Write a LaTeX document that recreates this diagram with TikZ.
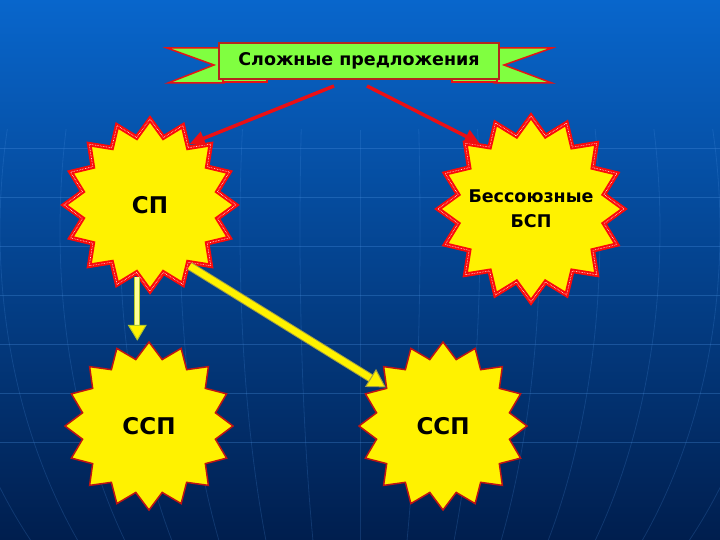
\documentclass[tikz,border=0pt]{standalone}
\usepackage{fontspec}
\setsansfont{DejaVu Sans}
\usetikzlibrary{arrows.meta, shapes.geometric, positioning}

\definecolor{bgtop}{RGB}{8,102,204}
\definecolor{bgmid}{RGB}{0,72,160}
\definecolor{bgbot}{RGB}{0,30,78}
\definecolor{gridblue}{RGB}{80,150,230}
\definecolor{ribbongreen}{RGB}{128,255,64}
\definecolor{ribbonred}{RGB}{230,20,20}
\definecolor{ribbonedge}{RGB}{180,40,30}
\definecolor{starred}{RGB}{250,10,10}
\definecolor{stardark}{RGB}{190,20,20}
\definecolor{arrowred}{RGB}{235,15,20}
\definecolor{paleyellow}{RGB}{255,255,150}
\definecolor{yellowedge}{RGB}{180,200,40}

\begin{document}
\begin{tikzpicture}[x=1pt, y=-1pt,
		gridline/.style={draw=gridblue, opacity=0.3, line width=0.8pt},
		ribbon/.style={fill=ribbongreen, draw=ribbonred, line width=1.5pt, line join=miter},
		banner/.style={rectangle, fill=ribbongreen, draw=ribbonedge, line width=2pt,
			minimum width=280pt, minimum height=36pt, inner sep=0pt,
			font=\sffamily\bfseries\fontsize{17.5}{19}\selectfont},
		bigstar/.style={star, star points=16, star point ratio=1.25, inner sep=0pt,
			fill=yellow, draw=starred, line width=4.5pt,
			postaction={draw=white, line width=0.6pt, densely dotted},
			font=\sffamily\bfseries\fontsize{23}{25}\selectfont},
		smallstar/.style={star, star points=16, star point ratio=1.24, inner sep=0pt,
			fill=yellow, draw=stardark, line width=1.5pt,
			font=\sffamily\bfseries\fontsize{23}{25}\selectfont},
		redarrow/.style={draw=arrowred, line width=3.5pt, -{Triangle[length=15pt, width=14pt]}},
		hollowarrow/.style={draw=yellowedge, line width=1pt, double=paleyellow, double distance=4pt,
			-{Triangle[length=16pt, width=19pt, fill=yellow]}},
		yellowarrow/.style={draw=yellow!60!black, line width=1pt, double=yellow, double distance=6.5pt,
			-{Triangle[length=18pt, width=21pt, fill=yellow]}}]

		% Background
		\useasboundingbox (0,0) rectangle (720,540);
		\shade[top color=bgtop, middle color=bgmid, bottom color=bgbot] (0,0) rectangle (720,540);
		\foreach \y in {148,197,...,490}
			\draw[gridline] (0,\y) -- (720,\y);
		\begin{scope}
			\clip (0,130) rectangle (720,540);
			\foreach \r in {60,120,...,600}
				\draw[gridline, opacity=0.2] (360,230) ellipse [x radius=\r, y radius=500];
			\draw[gridline, opacity=0.2] (360,130) -- (360,540);
		\end{scope}

		% Ribbon tails
		\draw[ribbon] (224,48) -- (167,48) -- (214,65) -- (168,83) -- (224,83) -- cycle;
		\draw[ribbon] (494,48) -- (552,48) -- (504,65) -- (552,83) -- (494,83) -- cycle;
		\draw[ribbon] (223,76) rectangle (267,82);
		\draw[ribbon] (452,76) rectangle (497,82);

		% Nodes
		\node[banner] (title) at (359,61) {Сложные предложения};
		\node[bigstar, minimum size=172pt] (sp) at (150,205) {СП};
		\node[bigstar, minimum size=186pt,
			label={[align=center, font=\sffamily\bfseries\fontsize{17.5}{25}\selectfont]center:Бессоюзные\\БСП}]
			(bsp) at (531,209) {};
		\node[smallstar, minimum size=168pt] (sspleft) at (149,426) {ССП};
		\node[smallstar, minimum size=168pt] (sspright) at (443,426) {ССП};

		% Edges
		\draw[redarrow] ([xshift=-25pt, yshift=-6pt]title.south) -- (sp.57);
		\draw[redarrow] ([xshift=8pt, yshift=-6pt]title.south) -- (bsp.128);
		\draw[hollowarrow] (sp.-100) -- (sp.-100 |- sspleft.north);
		\draw[yellowarrow] (sp.-57) -- (sspright.146);
	\end{tikzpicture}
\end{document}
